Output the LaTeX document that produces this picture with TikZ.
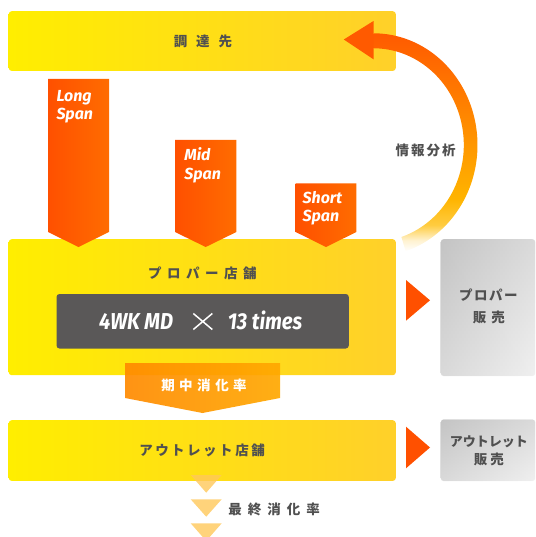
\documentclass[tikz,border=0pt]{standalone}
\usepackage{fontspec}
\usepackage{graphicx}
\newfontfamily\jp{Noto Sans CJK JP}
\newfontfamily\din{Fira Sans}
\definecolor{yelL}{HTML}{FFEE00}
\definecolor{yelR}{HTML}{FFD02A}
\definecolor{orL}{HTML}{FF5000}
\definecolor{orR}{HTML}{FF6C00}
\definecolor{midL}{HTML}{FF8A00}
\definecolor{midR}{HTML}{FFA800}
\definecolor{txtgray}{HTML}{505050}
\definecolor{darkbox}{HTML}{5A5858}
\definecolor{grayA}{HTML}{C4C4C4}
\definecolor{grayB}{HTML}{F0F0F0}
\definecolor{triC}{HTML}{FFC85A}
\definecolor{arcA}{HTML}{FFF2D0}
\definecolor{arcB}{HTML}{FFCC40}
\definecolor{arcC}{HTML}{FFB400}
\definecolor{arcD}{HTML}{FF9800}
\definecolor{arcE}{HTML}{FF7800}
\definecolor{arcF}{HTML}{FF5A00}
\pgfdeclareverticalshading{arcshade}{100bp}{color(0bp)=(white); color(25bp)=(white); color(27.5bp)=(arcA); color(31bp)=(arcB); color(37bp)=(arcC); color(49bp)=(arcD); color(62bp)=(arcE); color(75bp)=(arcF); color(100bp)=(arcF)}
\begin{document}
\begin{tikzpicture}[x=1pt,y=-1pt,
  ybox/.style={rounded corners=3pt, left color=yelL, right color=yelR, anchor=north west, inner sep=0pt},
  gbox/.style={rounded corners=3pt, top color=grayA, bottom color=grayB, anchor=north west, inner sep=0pt},
  gover/.style={rounded corners=3pt, left color=grayA, right color=grayB, opacity=0.5},
  jptxt/.style={font={\jp\bfseries\fontsize{13.5pt}{16pt}\selectfont}, text=txtgray, inner sep=0pt},
  jpwhite/.style={font={\jp\bfseries\fontsize{13.5pt}{16pt}\selectfont}, text=white, inner sep=0pt},
  spantxt/.style={font={\din\bfseries\itshape\fontsize{16pt}{18pt}\selectfont}, text=white, inner sep=0pt, anchor=base west},
  bigtxt/.style={font={\din\bfseries\itshape\fontsize{23pt}{26pt}\selectfont}, text=white, inner sep=0pt, anchor=base west},
  spanarrow/.style={left color=orL, right color=orR},
  sidearrow/.style={fill=orL},
  smalltri/.style={fill=triC, opacity=0.8}
]
\useasboundingbox (0,0) rectangle (535,537);
\clip (0,0) rectangle (535,537);

% boxes
\node[ybox, minimum width=387.1pt, minimum height=59.7pt] (supplier) at (8.5,11) {};
\node[jptxt] (supplierT) at (203,41.5) {調\kern9pt 達\kern9pt 先};
\node[ybox, minimum width=387.1pt, minimum height=136pt] (proper) at (8.5,239) {};
\node[ybox, minimum width=387.1pt, minimum height=60.7pt] (outlet) at (8.5,420) {};
\node[jptxt] (outletT) at (202,450.7) {ア\kern2.5pt ウ\kern2.5pt ト\kern2.5pt レ\kern2.5pt ッ\kern2.5pt ト\kern2.5pt 店\kern2.5pt 舗};
\node[jptxt] (properT) at (202.4,273) {プ\kern5.5pt ロ\kern5.5pt パ\kern5.5pt ー\kern5.5pt 店\kern5.5pt 舗};
\node[rounded corners=3pt, fill=darkbox, anchor=north west, minimum width=292.3pt, minimum height=54.5pt, inner sep=0pt] (md) at (56.3,293.8) {};
\node[bigtxt] (mdA) at (99,329.3) {\scalebox{0.88}[1]{4WK MD}};
\node[bigtxt] (mdB) at (227.6,329.3) {\scalebox{0.88}[1]{13 times}};
\draw[white, line width=1.5pt] (193.3,313.5) -- (212.3,329.5) (193.3,329.5) -- (212.3,313.5);

% gray boxes
\node[gbox, minimum width=94.3pt, minimum height=136.7pt] (properS) at (440.7,239) {};
\node[gbox, minimum width=94.3pt, minimum height=61.4pt] (outletS) at (440.7,419.3) {};
\shade[gover] (properS.north west) rectangle (properS.south east);
\shade[gover] (outletS.north west) rectangle (outletS.south east);
\node[jptxt] (properS1) at (488.3,295) {プ\kern1.5pt ロ\kern1.5pt パ\kern1.5pt ー};
\node[jptxt] (properS2) at (488.8,317.3) {販\kern5pt 売};
\node[jptxt] (outletS1) at (488.8,442.3) {\fontsize{13pt}{15pt}\selectfont アウトレット};
\node[jptxt] (outletS2) at (488.8,459.3) {販\kern3pt 売};

% span arrows
\shade[spanarrow] (48,79) -- (109,79) -- (109,232) -- (78.5,247) -- (48,232) -- cycle;
\shade[spanarrow] (175,140) -- (236.4,140) -- (236.4,232) -- (205.7,247) -- (175,232) -- cycle;
\shade[spanarrow] (295.7,183.3) -- (356.4,183.3) -- (356.4,232) -- (326,247) -- (295.7,232) -- cycle;
\node[spantxt] (long1) at (56.3,101.7) {Long};
\node[spantxt] (long2) at (56.3,119.3) {Span};
\node[spantxt] (mid1) at (184.2,160.7) {Mid};
\node[spantxt] (mid2) at (184.2,179.3) {Span};
\node[spantxt] (short1) at (302.5,203.3) {Short};
\node[spantxt] (short2) at (302.5,221.7) {Span};

% curved feedback arrow
\shade[shading=arcshade] plot[domain=-72:90, samples=90] ({373.5+104*cos(\x)},{145-111.7*sin(\x)}) -- plot[domain=90:-72, samples=90] ({373.5+90.3*cos(\x)},{145-96.7*sin(\x)}) -- cycle;
\fill[arcF] (373.5,21) -- (343.8,39.5) -- (373.5,59.3) -- cycle;
\node[jptxt] (info) at (425.5,150) {情\kern2pt 報\kern2pt 分\kern2pt 析};

% 期中消化率 arrow
\shade[left color=midL, right color=midR, opacity=0.92] (125,363) -- (280,363) -- (280,398) -- (202.5,413) -- (125,398) -- cycle;
\node[jpwhite] (midrate) at (204,385) {期\kern4.5pt 中\kern4.5pt 消\kern4.5pt 化\kern4.5pt 率};

% side arrows
\fill[sidearrow] (406,280) -- (430,300.3) -- (406,320.7) -- cycle;
\fill[sidearrow] (406,426.7) -- (430,447.5) -- (406,468.3) -- cycle;

% small triangles
\fill[smalltri] (190.7,475) -- (221.7,475) -- (206.2,492.7) -- cycle;
\fill[smalltri] (190.7,499.3) -- (221.7,499.3) -- (206.2,516.7) -- cycle;
\fill[smalltri] (190.7,523.3) -- (221.7,523.3) -- (206.2,541) -- cycle;
\node[jptxt] (finalrate) at (274.2,509) {最\kern6pt 終\kern6pt 消\kern6pt 化\kern6pt 率};
\end{tikzpicture}
\end{document}
